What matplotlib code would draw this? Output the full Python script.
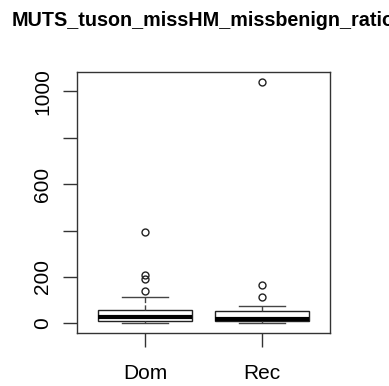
import matplotlib
matplotlib.use('Agg')
from matplotlib import pyplot as plt

# Values
groups = ['Dom', 'Rec']
whis_low = [0, 0]
q1 = [12, 9]
medians = [28, 18]
q3 = [60, 52]
whis_high = [113, 77]
outliers = [[138, 190, 210, 393], [115, 167, 1040]]
y_ticks = [0, 200, 400, 600, 800, 1000]
y_tick_labels = ['0', '200', '', '600', '', '1000']
title = 'MUTS_tuson_missHM_missbenign_ratio'

plt.rcParams['font.family'] = ['Liberation Sans', 'DejaVu Sans']

stats = []
for i, g in enumerate(groups):
    stats.append({'label': g, 'whislo': whis_low[i], 'q1': q1[i], 'med': medians[i],
                  'q3': q3[i], 'whishi': whis_high[i], 'fliers': outliers[i]})

fig = plt.figure(dpi=100, figsize=(3.89, 3.86))
ax = fig.add_axes([0.198, 0.137, 0.650, 0.676])
ax.bxp(stats, positions=[1, 2], widths=0.8, patch_artist=True,
       boxprops=dict(facecolor='white', edgecolor='#222222', linewidth=1),
       medianprops=dict(color='black', linewidth=3),
       whiskerprops=dict(color='#444444', linewidth=1, linestyle='--'),
       capprops=dict(color='#444444', linewidth=1),
       capwidths=0.4,
       flierprops=dict(marker='o', markerfacecolor='none', markeredgecolor='#222222',
                       markersize=5, markeredgewidth=1))

ax.set_xlim(0.42, 2.58)
ax.set_ylim(-41.6, 1081.6)
ax.set_yticks(y_ticks)
ax.set_yticklabels(y_tick_labels, rotation=90, va='center')
ax.set_xticks([1, 2])
ax.set_xticklabels(groups)
ax.tick_params(axis='both', which='major', labelsize=15, length=10, width=1,
               color='#333333')
ax.tick_params(axis='x', pad=12)
ax.tick_params(axis='y', pad=8)
for s in ax.spines.values():
    s.set_color('#333333')
    s.set_linewidth(1)

fig.text(0.523, 0.948, title, ha='center', va='center', fontsize=14.2, fontweight='bold')

plt.savefig('out.png', dpi=100)
